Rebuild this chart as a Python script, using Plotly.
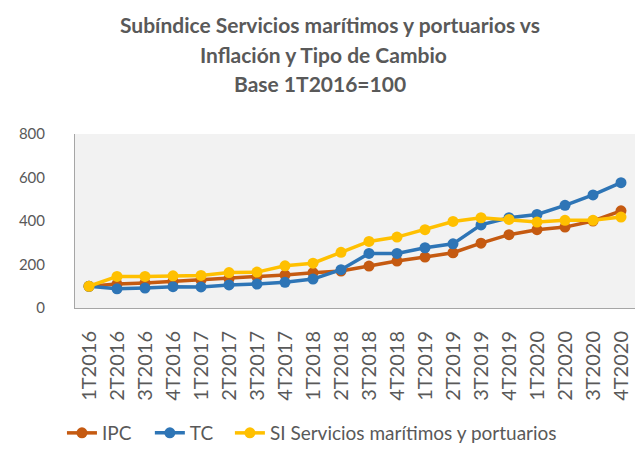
import plotly.graph_objects as go

quarters = ["1T2016", "2T2016", "3T2016", "4T2016", "1T2017", "2T2017", "3T2017", "4T2017",
            "1T2018", "2T2018", "3T2018", "4T2018", "1T2019", "2T2019", "3T2019", "4T2019",
            "1T2020", "2T2020", "3T2020", "4T2020"]
ipc = [100, 110, 115, 122, 128, 135, 143, 152, 162, 170, 193, 216, 234, 254, 298, 337, 360, 372, 400, 447]
tc = [100, 88, 92, 98, 97, 106, 110, 118, 133, 176, 251, 251, 277, 295, 382, 415, 430, 472, 520, 576]
si = [100, 145, 145, 148, 150, 163, 165, 194, 206, 256, 306, 326, 360, 398, 415, 407, 395, 403, 403, 418]
title_lines = ["Subíndice Servicios marítimos y portuarios vs",
               "Inflación y Tipo de Cambio",
               "Base 1T2016=100"]

series = [("IPC", ipc, "#C55A11"), ("TC", tc, "#2E75B6"), ("SI Servicios marítimos y portuarios", si, "#FFC000")]
legend_ids = ["legend", "legend2", "legend3"]
legend_x = [0.0962, 0.2327, 0.357]

fig = go.Figure()
for (name, vals, col), lid in zip(series, legend_ids):
    fig.add_trace(go.Scatter(x=quarters, y=vals, name=name, mode="lines+markers",
                             line=dict(color=col, width=3.5),
                             marker=dict(color=col, size=11), legend=lid))

# title lines as annotations (to control line spacing)
title_y = [1.627, 1.455, 1.288]
title_x = [0.455, 0.443, 0.438]
for txt, ty, tx in zip(title_lines, title_y, title_x):
    fig.add_annotation(text=txt, xref="paper", yref="paper", x=tx, y=ty,
                       xanchor="center", yanchor="middle", showarrow=False,
                       font=dict(size=21, color="#595959", family="Lato, Carlito, sans-serif",
                                 weight="bold"))

leg_common = dict(orientation="h", xref="container", yref="container", xanchor="left",
                  y=0.0504, yanchor="middle", font=dict(size=19, color="#595959"),
                  bgcolor="rgba(0,0,0,0)")
fig.update_layout(
    width=644, height=456,
    paper_bgcolor="white", plot_bgcolor="#F2F2F2",
    font=dict(family="Lato, Carlito, Calibri, sans-serif", color="#595959", size=14),
    margin=dict(l=75, r=9, t=134, b=148),
    showlegend=True,
    legend=dict(x=legend_x[0], **leg_common),
    legend2=dict(x=legend_x[1], **leg_common),
    legend3=dict(x=legend_x[2], **leg_common),
)
fig.update_xaxes(type="category", range=[-0.5, 19.5], tickangle=-90, showgrid=False,
                 showline=True, linecolor="#A6A6A6", linewidth=1, automargin=False,
                 ticks="outside", ticklen=14, tickcolor="rgba(0,0,0,0)",
                 tickfont=dict(size=20, color="#595959"))
fig.update_yaxes(range=[0, 800], dtick=200, showgrid=False, showline=True, automargin=False,
                 linecolor="#A6A6A6", linewidth=1, zeroline=False,
                 ticks="outside", ticklen=26, tickcolor="rgba(0,0,0,0)",
                 tickfont=dict(size=15, color="#595959"))

fig.write_html("out.html", config={"displayModeBar": False},
               post_script="document.body.style.margin='0';")
